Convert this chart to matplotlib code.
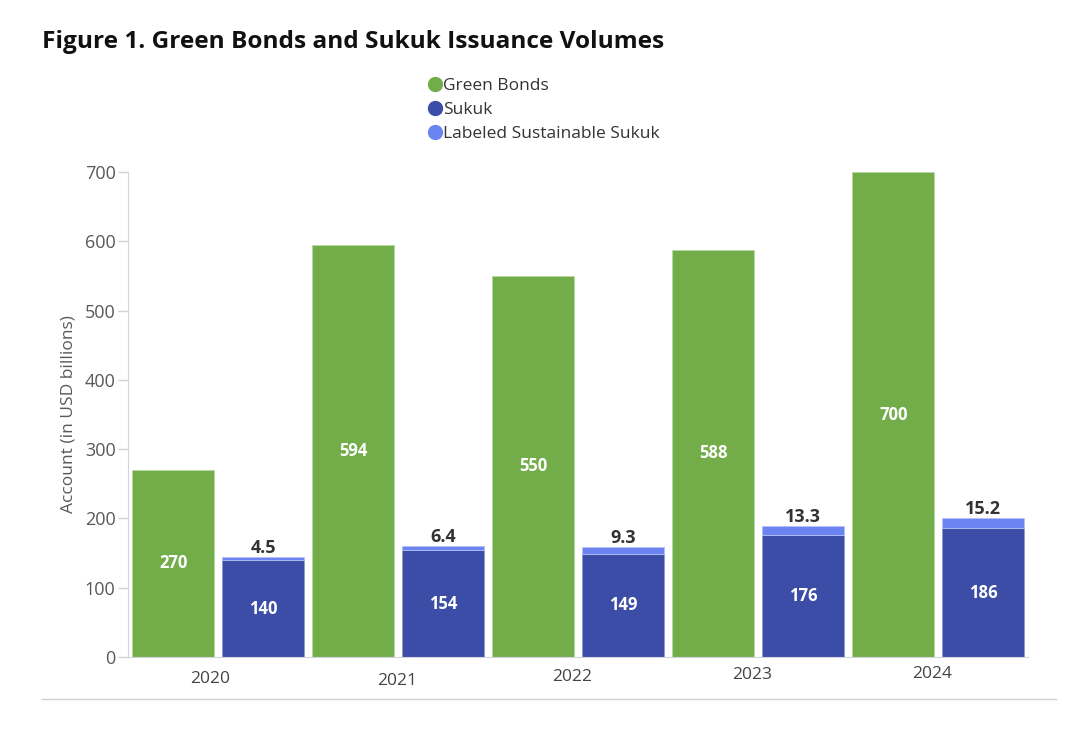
import matplotlib.pyplot as plt
from matplotlib.lines import Line2D
import numpy as np

plt.rcParams['font.family'] = ['Open Sans', 'DejaVu Sans']

years = ['2020', '2021', '2022', '2023', '2024']
green_bonds = [270, 594, 550, 588, 700]
sukuk = [140, 154, 149, 176, 186]
labeled_sukuk = [4.5, 6.4, 9.3, 13.3, 15.2]

GREEN = '#72ad4a'
DARK_BLUE = '#3b4da6'
LIGHT_BLUE = '#6c84f2'
GRAY = '#595959'
AXIS_GRAY = '#d3d3de'

fig = plt.figure(figsize=(10.85, 7.32), dpi=100)
ax = fig.add_axes([128 / 1085, 1 - 657 / 732, 900 / 1085, 485 / 732])

x = np.arange(len(years))
w = 0.455
gx = x + 0.252
bx = x + 0.752

ax.bar(gx, green_bonds, w, color=GREEN, edgecolor='#b9d9a3', linewidth=0.6)
ax.bar(bx, sukuk, w, color=DARK_BLUE, edgecolor='#8f9ad0', linewidth=0.6)
ax.bar(bx, labeled_sukuk, w, bottom=sukuk, color=LIGHT_BLUE,
       edgecolor='#b3c0f7', linewidth=0.6)

for xi, v in zip(gx, green_bonds):
    ax.text(xi, v / 2, f'{v}', ha='center', va='center', color='white',
            fontsize=12, fontweight='bold')
for xi, s, l in zip(bx, sukuk, labeled_sukuk):
    ax.text(xi, s / 2, f'{s}', ha='center', va='center', color='white',
            fontsize=12, fontweight='bold')
    ax.annotate(f'{l}', (xi, s + l), xytext=(0, 0), textcoords='offset points',
                ha='center', va='bottom', color='#333333', fontsize=13,
                fontweight='bold')

ax.set_xlim(0, 5)
ax.set_ylim(0, 700)
ax.set_yticks(range(0, 701, 100))
ax.tick_params(axis='y', colors=AXIS_GRAY, labelcolor=GRAY, labelsize=13,
               length=7, width=1, pad=2)
ax.set_xticks([])

# year labels under each pair (slightly uneven, as in the source)
label_dx = [-0.044, -0.006, -0.03, -0.03, -0.03]
label_dy = [-22, -24, -20, -18, -17]
for i, (yr, dx, dy) in enumerate(zip(years, label_dx, label_dy)):
    ax.annotate(yr, (i + 0.5 + dx, 0), xycoords=('data', 'axes fraction'),
                xytext=(0, dy), textcoords='offset pixels', ha='center',
                va='center', color='#444444', fontsize=12.5)

for side in ['top', 'right']:
    ax.spines[side].set_visible(False)
ax.spines['left'].set_color(AXIS_GRAY)
ax.spines['bottom'].set_color(AXIS_GRAY)

ax.set_ylabel('Account (in USD billions)', color=GRAY, fontsize=12.5, labelpad=6)

fig.text(42 / 1085, 1 - 42 / 732, 'Figure 1. Green Bonds and Sukuk Issuance Volumes',
         fontsize=17.6, fontweight='bold', color='#111111', va='center', ha='left')

handles = [
    Line2D([], [], marker='o', ls='', color=GREEN, markersize=10, label='Green Bonds'),
    Line2D([], [], marker='o', ls='', color=DARK_BLUE, markersize=10, label='Sukuk'),
    Line2D([], [], marker='o', ls='', color=LIGHT_BLUE, markersize=10,
           label='Labeled Sustainable Sukuk'),
]
leg = fig.legend(handles=handles, loc='upper left',
                 bbox_to_anchor=(421 / 1085, 1 - 71 / 732), frameon=False,
                 fontsize=12.5, handlelength=0.8, handletextpad=0.05,
                 labelspacing=0.45, borderaxespad=0)
for t in leg.get_texts():
    t.set_color('#333333')

fig.add_artist(Line2D([42 / 1085, 1056 / 1085], [1 - 699 / 732, 1 - 699 / 732],
                      color='#d0d0d8', linewidth=1))

fig.savefig('out.png', dpi=100)
